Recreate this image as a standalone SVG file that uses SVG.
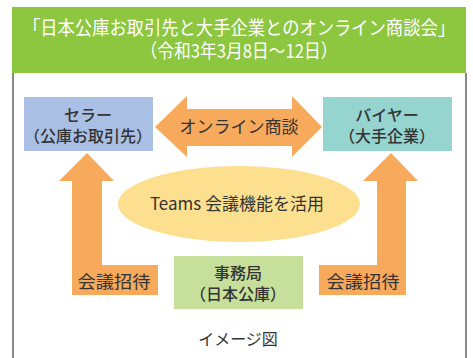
<svg xmlns="http://www.w3.org/2000/svg" width="473" height="358" viewBox="0 0 473 358">
<style>
text{font-family:"Noto Sans CJK JP","Noto Sans",sans-serif;fill:#333;text-anchor:middle;font-weight:500}
.h{fill:#fff;font-size:19px;font-weight:400}
.b{font-size:16px}
.l{font-size:17px;font-weight:400}
.arr{fill:#f7a95c}
</style>
<rect width="473" height="358" fill="#fff"/>
<g id="frame">
<rect x="12" y="7" width="454" height="66" fill="#8dc63f"/>
<line x1="13" y1="73" x2="13" y2="358" stroke="#888" stroke-width="2"/>
<line x1="466" y1="73" x2="466" y2="358" stroke="#888" stroke-width="2"/>
<text class="h" x="239" y="35" textLength="432" lengthAdjust="spacingAndGlyphs">「日本公庫お取引先と大手企業とのオンライン商談会」</text>
<text class="h" x="239" y="58" textLength="197" lengthAdjust="spacingAndGlyphs">（令和3年3月8日～12日）</text>
</g>
<g id="connectors">
<g id="online">
<path class="arr" d="M155,127 L187,96 L187,109 L292,109 L292,96 L322,127 L292,157 L292,146 L187,146 L187,157 Z"/>
<text class="l" x="239" y="133">オンライン商談</text>
</g>
<g id="invite-left">
<path class="arr" d="M87,153 L114,181 L102,181 L102,265 L158,265 L158,295 L72,295 L72,181 L59,181 Z"/>
<text class="l" x="114" y="288" textLength="73" lengthAdjust="spacingAndGlyphs">会議招待</text>
</g>
<g id="invite-right">
<path class="arr" d="M391,153 L418,181 L406,181 L406,295 L319,295 L319,265 L377,265 L377,181 L363,181 Z"/>
<text class="l" x="363" y="288" textLength="73" lengthAdjust="spacingAndGlyphs">会議招待</text>
</g>
</g>
<g id="seller">
<rect x="24" y="97" width="129" height="54" fill="#a9bfe3"/>
<text class="b" x="88" y="121">セラー</text>
<text class="b" x="88" y="142">（公庫お取引先）</text>
</g>
<g id="buyer">
<rect x="323" y="97" width="129" height="54" fill="#96d4d0"/>
<text class="b" x="387" y="121">バイヤー</text>
<text class="b" x="387" y="142">（大手企業）</text>
</g>
<g id="teams">
<ellipse cx="239" cy="204" rx="121" ry="38" fill="#fde08f"/>
<text class="l" x="237" y="210">Teams 会議機能を活用</text>
</g>
<g id="jimukyoku">
<rect x="174" y="256" width="129" height="53" fill="#c6e09c"/>
<text class="b" x="238" y="279">事務局</text>
<text class="b" x="238" y="300">（日本公庫）</text>
</g>
<text class="b" x="238" y="345" style="font-weight:400">イメージ図</text>
</svg>
